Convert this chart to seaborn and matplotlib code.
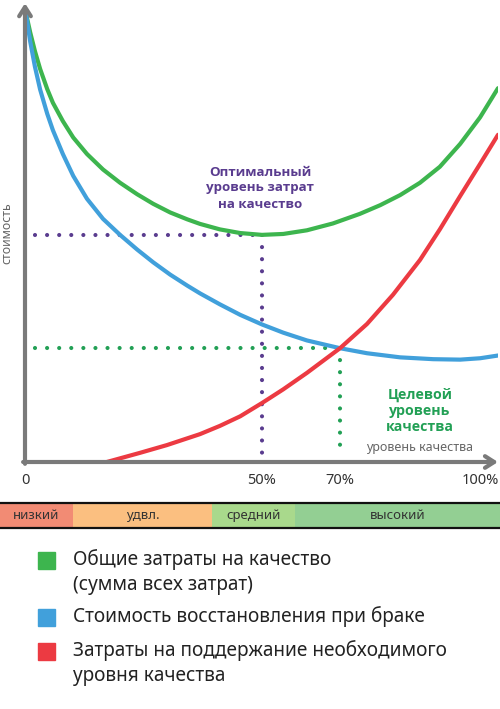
import matplotlib
matplotlib.use("Agg")
import matplotlib.pyplot as plt
from matplotlib.patches import Rectangle
import seaborn as sns
import pandas as pd

# ---------------- data (schematic units 0..100) -------------
total_x = [0.2, 1.1, 2.1, 3.2, 4.7, 5.9, 8.0, 10.2, 13.1, 16.5, 20.1, 23.7, 27.1, 30.7, 34.3,
           37.0, 41.2, 45.5, 50.1, 54.6, 59.6, 65.1, 70.8, 75.1, 79.3, 83.5, 87.7, 92.0, 96.2, 100.0]
total_y = [98.2, 94.0, 89.9, 86.0, 81.6, 78.6, 74.6, 71.0, 67.4, 64.0, 61.1, 58.6, 56.5, 54.6, 53.1,
           52.1, 50.9, 50.1, 49.7, 49.9, 50.7, 52.2, 54.3, 56.2, 58.4, 61.1, 64.6, 69.6, 75.4, 81.8]

defect_x = [0.2, 1.1, 2.1, 3.2, 4.7, 5.9, 8.0, 10.2, 13.1, 16.5, 20.1, 23.7, 27.1, 30.7, 34.3,
            37.0, 41.2, 45.5, 50.1, 54.6, 59.6, 66.6, 72.3, 79.3, 86.3, 92.0, 96.2, 100.0]
defect_y = [98.2, 92.0, 86.5, 81.5, 76.2, 72.6, 67.4, 62.6, 57.6, 53.2, 49.7, 46.5, 43.7, 41.0, 38.6,
            36.9, 34.5, 32.2, 30.1, 28.3, 26.6, 24.9, 23.8, 22.9, 22.5, 22.4, 22.7, 23.3]

maint_x = [17.3, 24.3, 30.0, 37.0, 41.2, 45.5, 50.1, 54.6, 59.6, 66.6, 72.3, 77.8, 83.5, 87.7, 92.0, 96.2, 100.0]
maint_y = [0.0, 2.0, 3.7, 6.1, 7.9, 10.0, 12.9, 15.9, 19.5, 24.9, 30.2, 36.6, 44.2, 50.9, 58.2, 65.2, 71.6]

optimum_x, optimum_y = 50.1, 49.7
target_x, target_y = 66.6, 24.9

tick_pos = [0, 50.1, 66.6, 96.2]
tick_labels = ["0", "50%", "70%", "100%"]

band_labels = ["низкий", "удвл.", "средний", "высокий"]
band_left = [0, 14.6, 42.4, 59.0]
band_width = [14.6, 27.8, 16.6, 41.0]
band_colors = ["#f28b74", "#fbbf80", "#a9d98c", "#93cf93"]

legend_labels = [["Общие затраты на качество", "(сумма всех затрат)"],
                 ["Стоимость восстановления при браке"],
                 ["Затраты на поддержание необходимого", "уровня качества"]]

C_GREEN = "#3db54e"
C_BLUE = "#41a0db"
C_RED = "#ec3a42"
C_PURPLE = "#5a3c8f"
C_DGREEN = "#22a055"
C_AXIS = "#7a7a7a"

sns.set_theme(style="white")
plt.rcParams["font.family"] = ["Noto Sans", "DejaVu Sans"]
BOLD_FAMILY = ["Open Sans", "DejaVu Sans"]

W, H = 500, 709
fig = plt.figure(figsize=(W / 100, H / 100), dpi=100)
fig.patch.set_facecolor("white")

def fx(px):
    return px / W

def fy(py):
    return 1 - py / H

# ---------------- main chart ----------------
ax = fig.add_axes([fx(25), fy(462), 473 / W, 457 / H])
ax.set_xlim(0, 100)
ax.set_ylim(0, 100)
for s in ax.spines.values():
    s.set_visible(False)

df_total = pd.DataFrame({"x": total_x, "y": total_y})
df_def = pd.DataFrame({"x": defect_x, "y": defect_y})
df_m = pd.DataFrame({"x": maint_x, "y": maint_y})
sns.lineplot(data=df_total, x="x", y="y", ax=ax, color=C_GREEN, lw=3.0, zorder=3)
sns.lineplot(data=df_def, x="x", y="y", ax=ax, color=C_BLUE, lw=3.0, zorder=3)
sns.lineplot(data=df_m, x="x", y="y", ax=ax, color=C_RED, lw=3.0, zorder=3)
for ln in ax.lines:
    ln.set_solid_capstyle("round")
    ln.set_solid_joinstyle("round")

dot = (0, (0.001, 2.9))
x0 = 2.2
ax.plot([x0, optimum_x], [optimum_y, optimum_y], color=C_PURPLE, lw=3, ls=dot,
        dash_capstyle="round", zorder=2)
ax.plot([optimum_x, optimum_x], [optimum_y, 1.5], color=C_PURPLE, lw=3, ls=dot,
        dash_capstyle="round", zorder=2)
ax.plot([x0, target_x], [target_y, target_y], color=C_DGREEN, lw=3, ls=dot,
        dash_capstyle="round", zorder=2)
ax.plot([target_x, target_x], [target_y, 1.5], color=C_DGREEN, lw=3, ls=dot,
        dash_capstyle="round", zorder=2)

# axes with arrows
ax.annotate("", xy=(1.0, 0), xytext=(-0.004, 0), xycoords="axes fraction",
            arrowprops=dict(arrowstyle="->,head_length=0.55,head_width=0.35",
                            color=C_AXIS, lw=3, shrinkA=0, shrinkB=0),
            annotation_clip=False, zorder=5)
ax.annotate("", xy=(0, 1.004), xytext=(0, -0.004), xycoords="axes fraction",
            arrowprops=dict(arrowstyle="->,head_length=0.55,head_width=0.35",
                            color=C_AXIS, lw=3, shrinkA=0, shrinkB=0),
            annotation_clip=False, zorder=5)

ax.set_xticks(tick_pos)
ax.set_xticklabels(tick_labels, fontsize=10.5, color="#333333")
ax.tick_params(axis="x", length=0, pad=8)
ax.set_yticks([])
ax.set_xlabel("")
ax.set_ylabel("стоимость", fontsize=8.8, color="#666666")
ax.yaxis.set_label_coords(-12 / 473, (462 - 233) / 457)

# annotations
for txt, py in zip(["Оптимальный", "уровень затрат", "на качество"], [172, 188, 204]):
    ax.text((260 - 25) / 473, (462 - py) / 457, txt, transform=ax.transAxes,
            ha="center", va="center", fontsize=9.6, fontweight="bold",
            family=BOLD_FAMILY, color=C_PURPLE)
for txt, py in zip(["Целевой", "уровень", "качества"], [395, 411, 427]):
    ax.text((420 - 25) / 473, (462 - py) / 457, txt, transform=ax.transAxes,
            ha="center", va="center", fontsize=10.2, fontweight="bold",
            family=BOLD_FAMILY, color=C_DGREEN)
ax.text((420 - 25) / 473, (462 - 448) / 457, "уровень качества", transform=ax.transAxes,
        ha="center", va="center", fontsize=9, color="#666666")

# ---------------- quality band ----------------
axb = fig.add_axes([0, fy(528), 1, 25 / H])
axb.barh(y=[0] * len(band_labels), width=band_width, left=band_left, height=1.0,
         color=band_colors, edgecolor="none")
axb.set_xlim(0, 100)
axb.set_ylim(-0.5, 0.5)
axb.axis("off")
axb.axhline(0.5, color="#111111", lw=1.6, clip_on=False)
axb.axhline(-0.5, color="#111111", lw=1.6, clip_on=False)
for lab, l, w in zip(band_labels, band_left, band_width):
    axb.text(l + w / 2, 0, lab, ha="center", va="center", fontsize=9.5, color="#333333")

# ---------------- legend ----------------
leg_colors = [C_GREEN, C_BLUE, C_RED]
leg_y = [[560, 585], [617], [651, 676]]
for col, lines, ys in zip(leg_colors, legend_labels, leg_y):
    fig.add_artist(Rectangle((fx(38), fy(ys[0] + 8.5)), 17 / W, 17 / H,
                             transform=fig.transFigure, color=col))
    for t, py in zip(lines, ys):
        fig.text(fx(73), fy(py), t, ha="left", va="center", fontsize=13.7, color="#222222")

fig.savefig("out.png", dpi=100, facecolor="white")
